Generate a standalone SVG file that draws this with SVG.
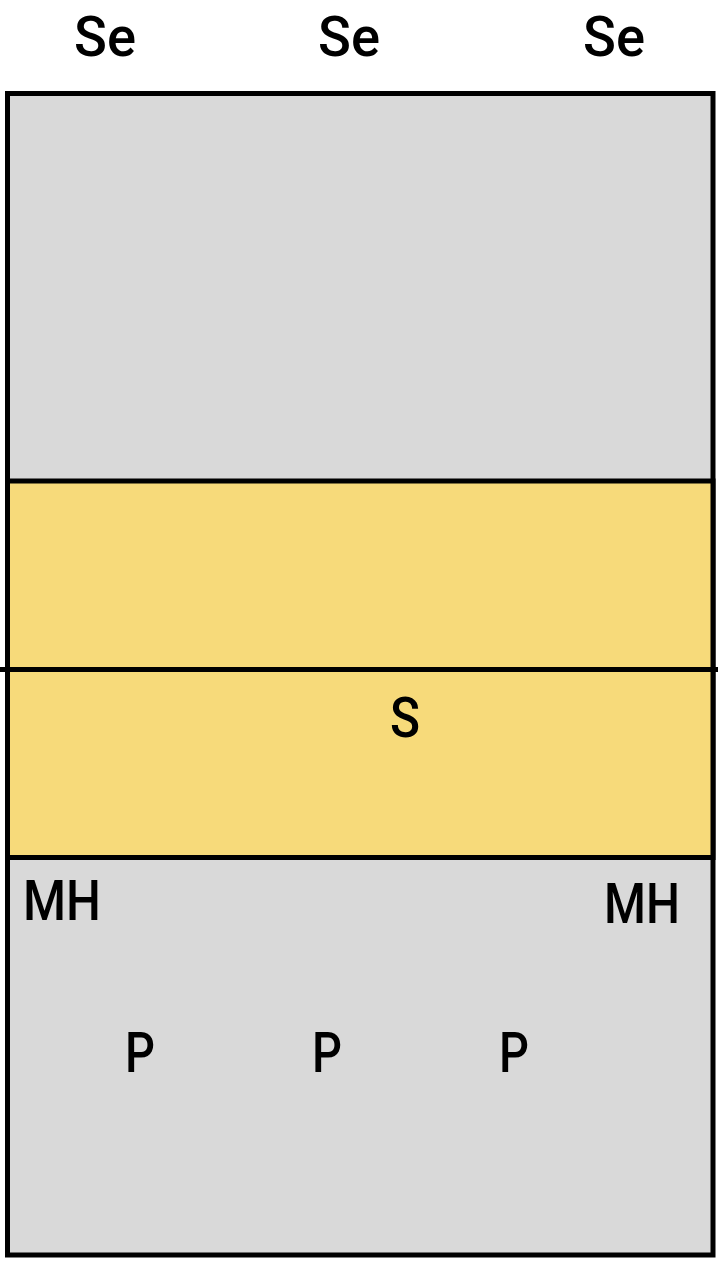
<svg xmlns="http://www.w3.org/2000/svg" width="718" height="1264" viewBox="0 0 718 1264">
<style>
.lbl{font-family:Roboto,"Liberation Sans",sans-serif;font-weight:500;font-size:56px;fill:#000}
.edge{stroke:#000;stroke-width:5}
.grey{fill:#d9d9d9}
.yellow{fill:#f7da7a}
</style>
<rect width="718" height="1264" fill="#fff"/>
<g id="court">
<rect x="7.5" y="93.5" width="705.5" height="1161.5" class="edge grey"/>
<rect x="7.5" y="481" width="705.5" height="376.5" class="edge yellow"/>
</g>
<g id="connectors">
<line x1="0" y1="669.5" x2="718" y2="669.5" stroke="#000" stroke-width="5"/>
</g>
<g id="se1"><text class="lbl" x="74" y="56" textLength="62" lengthAdjust="spacingAndGlyphs">Se</text></g>
<g id="se2"><text class="lbl" x="318" y="56" textLength="62" lengthAdjust="spacingAndGlyphs">Se</text></g>
<g id="se3"><text class="lbl" x="583" y="56" textLength="62" lengthAdjust="spacingAndGlyphs">Se</text></g>
<g id="s"><text class="lbl" x="390" y="737" textLength="30" lengthAdjust="spacingAndGlyphs">S</text></g>
<g id="mh1"><text class="lbl" x="23" y="920" textLength="78" lengthAdjust="spacingAndGlyphs">MH</text></g>
<g id="mh2"><text class="lbl" x="604" y="923" textLength="76" lengthAdjust="spacingAndGlyphs">MH</text></g>
<g id="p1"><text class="lbl" x="125" y="1072" textLength="30" lengthAdjust="spacingAndGlyphs">P</text></g>
<g id="p2"><text class="lbl" x="312" y="1072" textLength="30" lengthAdjust="spacingAndGlyphs">P</text></g>
<g id="p3"><text class="lbl" x="499" y="1072" textLength="30" lengthAdjust="spacingAndGlyphs">P</text></g>
</svg>
